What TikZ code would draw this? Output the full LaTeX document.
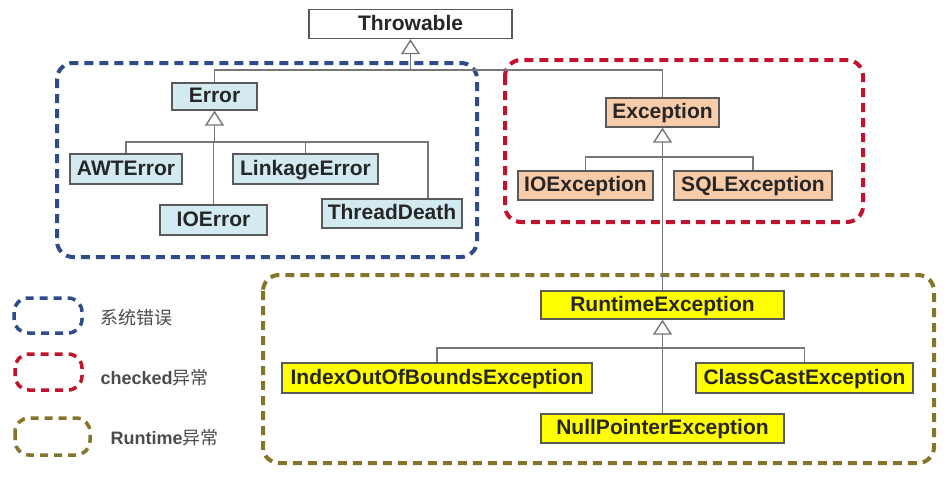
\documentclass[tikz,border=0pt]{standalone}
\usepackage{fontspec}
\setmainfont{Liberation Sans}
\newfontfamily\cjk{Noto Sans CJK SC}
\usetikzlibrary{arrows.meta}
\definecolor{grpblue}{HTML}{2E4B8A}
\definecolor{grpred}{HTML}{C3122C}
\definecolor{grpolive}{HTML}{85752A}
\definecolor{fillblue}{HTML}{D3EAF1}
\definecolor{fillpeach}{HTML}{F8CBA9}
\definecolor{fillyellow}{HTML}{FFFF00}
\definecolor{linegray}{HTML}{777777}
\definecolor{boxgray}{HTML}{5A5A5A}
\begin{document}
\begin{tikzpicture}[x=1pt,y=-1pt,
  cls/.style={draw=boxgray,line width=1.3pt,inner sep=0pt,text height=15pt,text depth=3pt,font=\fontsize{21}{24}\selectfont\bfseries,text=black!85},
  errbox/.style={cls,fill=fillblue},
  exbox/.style={cls,fill=fillpeach},
  rtbox/.style={cls,fill=fillyellow},
  conn/.style={draw=linegray,line width=1.6pt},
  inh/.style={conn,-{Triangle[width=19pt,length=15pt,fill=white,line width=1.4pt]}},
  grp/.style={line width=4pt,dash pattern=on 9pt off 6pt,rounded corners=16pt},
  leg/.style={line width=3.5pt,dash pattern=on 8pt off 6pt,rounded corners=14pt},
  legtext/.style={anchor=west,text=black!70,font=\fontsize{18}{21}\selectfont\bfseries}]
\useasboundingbox (0,0) rectangle (952,479);
\fill[white] (0,0) rectangle (952,479);
% group frames
\draw[grp,grpblue] (57,63) rectangle (477,257);
\draw[grp,grpred] (505,60) rectangle (863,222);
\draw[grp,grpolive] (263,275) rectangle (934,463);
% class nodes
\node[cls,fill=white,minimum width=203,minimum height=29] (thr) at (410.5,24) {Throwable};
\node[errbox,minimum width=85,minimum height=27] (err) at (214.5,96.5) {Error};
\node[errbox,minimum width=112,minimum height=30] (awt) at (126,169) {AWTError};
\node[errbox,minimum width=145,minimum height=30] (link) at (305.5,169) {LinkageError};
\node[errbox,minimum width=107,minimum height=30] (ioe) at (213.5,220) {IOError};
\node[errbox,minimum width=140,minimum height=29] (td) at (392,213.5) {ThreadDeath};
\node[exbox,minimum width=113,minimum height=29] (exc) at (662.5,112.5) {Exception};
\node[exbox,minimum width=135,minimum height=29] (ioex) at (585.5,185.5) {IOException};
\node[exbox,minimum width=158,minimum height=29] (sql) at (753,185.5) {SQLException};
\node[rtbox,minimum width=243,minimum height=28] (rte) at (662.5,305) {RuntimeException};
\node[rtbox,minimum width=310,minimum height=30] (idx) at (437,378) {IndexOutOfBoundsException};
\node[rtbox,minimum width=217,minimum height=30] (cce) at (804.5,378) {ClassCastException};
\node[rtbox,minimum width=243,minimum height=29] (npe) at (662.5,428.5) {NullPointerException};
% connectors
\coordinate (tb) at (410.5,70);
\draw[conn] (err.north) |- (tb) -| (exc.north);
\draw[inh] (tb) -- (thr.south);
\coordinate (eb) at (214.5,142);
\coordinate (tdtop) at ([xshift=36pt]td.north);
\draw[conn] (awt.north) |- (eb) -| (tdtop);
\draw[conn] (link.north) -- (link.north |- eb);
\draw[conn] (ioe.north) -- (ioe.north |- eb);
\draw[inh] (eb) -- (err.south);
\coordinate (xb) at (662.5,157);
\draw[conn] (ioex.north) |- (xb) -| (sql.north);
\draw[conn] (rte.north) -- (xb);
\draw[inh] (xb) -- (exc.south);
\coordinate (rb) at (662.5,348);
\draw[conn] (idx.north) |- (rb) -| (cce.north);
\draw[conn] (npe.north) -- (rb);
\draw[inh] (rb) -- (rte.south);
% legend
\draw[leg,grpblue] (14,298) rectangle (82,333);
\node[legtext] (l1) at (97,318) {\cjk\mdseries 系统错误};
\draw[leg,grpred] (15,354) rectangle (82,390);
\node[legtext] (l2) at (97,378) {checked{\cjk\mdseries 异常}};
\draw[leg,grpolive] (15,418) rectangle (90,455);
\node[legtext] (l3) at (107,438) {Runtime{\cjk\mdseries 异常}};
\end{tikzpicture}
\end{document}
